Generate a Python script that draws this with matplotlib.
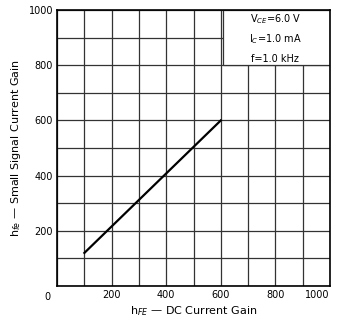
import matplotlib
matplotlib.use("Agg")
import matplotlib.pyplot as plt
from matplotlib.patches import Rectangle

# data
hfe_dc = [100, 600]
hfe_small = [120, 600]

ticks = [0, 200, 400, 600, 800, 1000]
grid = list(range(0, 1001, 100))
conditions = ["V$_{CE}$=6.0 V", "I$_C$=1.0 mA", "f=1.0 kHz"]

plt.rcParams['font.family'] = 'DejaVu Sans'
fig = plt.figure(figsize=(3.38, 3.25), dpi=100)
ax = fig.add_axes([0.169, 0.12, 0.807, 0.849])

ax.set_xlim(0, 1000)
ax.set_ylim(0, 1000)

for g in grid:
    ax.axvline(g, color='#333333', lw=0.9, zorder=1)
    ax.axhline(g, color='#333333', lw=0.9, zorder=1)

ax.plot(hfe_dc, hfe_small, color='black', lw=1.6, zorder=3)

# conditions box hiding grid in top right corner
ax.add_patch(Rectangle((608, 800), 392, 200, facecolor='white',
                       edgecolor='#333333', lw=0.9, zorder=2))
for i, s in enumerate(conditions):
    ax.text(800, 968 - i * 72, s, ha='center', va='center', fontsize=7,
            zorder=4)

ax.set_xticks(ticks[1:])
ax.set_xticklabels([str(t) for t in ticks[1:]], fontsize=7)
ax.get_xticklabels()[-1].set_horizontalalignment('right')
ax.set_yticks(ticks[1:])
ax.set_yticklabels([str(t) for t in ticks[1:]], fontsize=7)
ax.tick_params(length=0, pad=3)
ax.text(-25, -22, "0", ha='right', va='top', fontsize=7)

for sp in ax.spines.values():
    sp.set_linewidth(1.2)

ax.set_xlabel("h$_{FE}$ \u2014 DC Current Gain", fontsize=8, labelpad=3)
ax.set_ylabel("h$_{fe}$ \u2014 Small Signal Current Gain", fontsize=8,
              labelpad=4)

fig.savefig("out.png", dpi=100)
